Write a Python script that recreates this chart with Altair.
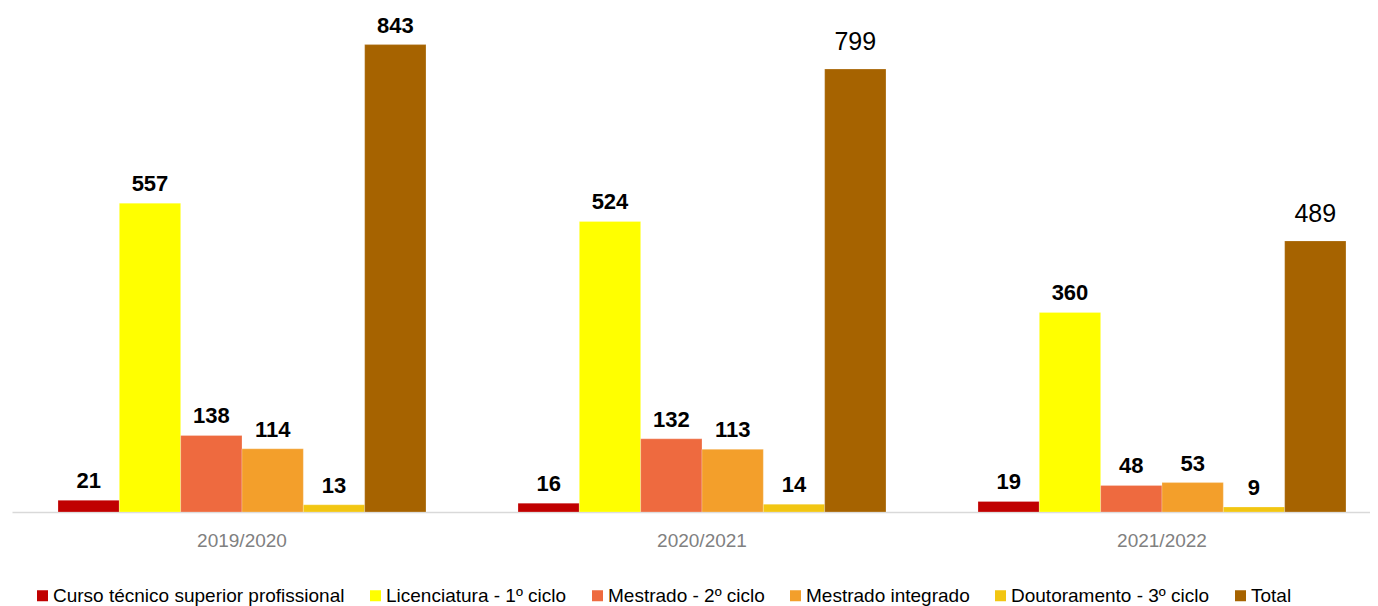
import altair as alt
import pandas as pd

years = ["2019/2020", "2020/2021", "2021/2022"]
categories = [
    "Curso técnico superior profissional",
    "Licenciatura - 1º ciclo",
    "Mestrado - 2º ciclo",
    "Mestrado integrado",
    "Doutoramento - 3º ciclo",
    "Total",
]
colors = ["#C00000", "#FFFF00", "#EE6A3F", "#F39F2B", "#F2C612", "#A66300"]

ctesp = [21, 16, 19]
licenciatura = [557, 524, 360]
mestrado = [138, 132, 48]
mestrado_int = [114, 113, 53]
doutoramento = [13, 14, 9]
total = [843, 799, 489]
series = [ctesp, licenciatura, mestrado, mestrado_int, doutoramento, total]
# which labels are bold (Total labels for last two years are regular)
total_bold = [True, False, False]

rows = []
for ci, (cat, vals) in enumerate(zip(categories, series)):
    for yi, (yr, v) in enumerate(zip(years, vals)):
        bold = total_bold[yi] if cat == "Total" else True
        rows.append({"ano": yr, "cat": cat, "ord": ci, "valor": v, "bold": bold})
df = pd.DataFrame(rows)

FONT = "Liberation Sans"
LEGEND_FONT = "Liberation Sans Narrow, Arial Narrow, Liberation Sans"

x = alt.X("ano:N", title=None, sort=years,
          scale=alt.Scale(paddingInner=0.2, paddingOuter=0.0761, align=0.657),
          axis=alt.Axis(labelAngle=0, labelFont=FONT, labelFontSize=19,
                        labelColor="#808080", labelPadding=19, ticks=False,
                        domainColor="#D9D9D9", domainWidth=1.5, grid=False))
xoff = alt.XOffset("cat:N", sort=categories, scale=alt.Scale(paddingInner=0, paddingOuter=0))
y = alt.Y("valor:Q", title=None, scale=alt.Scale(domain=[0, 900], nice=False),
          axis=None)

base = alt.Chart(df)

bars = base.mark_bar(stroke="white", strokeWidth=0.4, strokeOpacity=0.6).encode(
    x=x, xOffset=xoff, y=y,
    color=alt.Color("cat:N", sort=categories,
                    scale=alt.Scale(domain=categories, range=colors),
                    legend=alt.Legend(title=None, orient="none", direction="horizontal",
                                      legendX=21, legendY=573, symbolType="square",
                                      symbolSize=121, symbolStrokeWidth=0,
                                      labelFont=LEGEND_FONT, labelFontSize=19,
                                      labelColor="#000000", labelOffset=1,
                                      columnPadding=21, labelLimit=500, padding=0)),
)

labels_bold = base.transform_filter("datum.bold").mark_text(
    font=FONT, fontSize=22, fontWeight="bold", color="#000000",
    baseline="alphabetic", dy=-12,
).encode(x=x, xOffset=xoff, y=y, text="valor:Q")

labels_reg = base.transform_filter("!datum.bold").mark_text(
    font=FONT, fontSize=25, fontWeight="normal", color="#000000",
    baseline="alphabetic", dy=-19,
).encode(x=x, xOffset=xoff, y=y, text="valor:Q")

chart = alt.layer(bars, labels_bold, labels_reg).properties(
    width=1358, height=499,
    padding={"left": 4, "top": 5, "right": 0, "bottom": 0},
).configure(background="white").configure_view(stroke=None)

chart.save("out.html", embed_options={"renderer": "svg", "actions": False})
